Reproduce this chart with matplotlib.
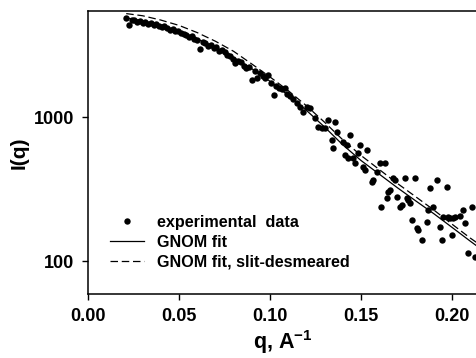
import matplotlib
matplotlib.use("Agg")
import matplotlib.pyplot as plt

plt.rcParams["font.family"] = ["Liberation Sans", "DejaVu Sans"]
plt.rcParams["font.weight"] = "bold"
plt.rcParams["mathtext.fontset"] = "custom"
plt.rcParams["mathtext.rm"] = "Liberation Sans:bold"
plt.rcParams["mathtext.bf"] = "Liberation Sans:bold"

# experimental points (q in 1/A, intensity)
q_exp = [
    0.0210, 0.0225, 0.0240, 0.0255, 0.0270, 0.0285, 0.0300, 0.0315, 0.0330, 0.0345,
    0.0360, 0.0375, 0.0390, 0.0405, 0.0420, 0.0435, 0.0450, 0.0465, 0.0480, 0.0495,
    0.0510, 0.0525, 0.0540, 0.0555, 0.0570, 0.0585, 0.0600, 0.0615, 0.0630, 0.0645,
    0.0660, 0.0675, 0.0690, 0.0705, 0.0720, 0.0735, 0.0750, 0.0765, 0.0780, 0.0795,
    0.0810, 0.0825, 0.0840, 0.0855, 0.0870, 0.0885, 0.0900, 0.0915, 0.0930, 0.0945,
    0.0960, 0.0975, 0.0990, 0.1005, 0.1020, 0.1035, 0.1050, 0.1065, 0.1080, 0.1095,
    0.1110, 0.1125, 0.1147, 0.1165, 0.1183, 0.1201, 0.1220, 0.1247, 0.1265, 0.1284,
    0.1302, 0.1321, 0.1339, 0.1348, 0.1357, 0.1366, 0.1403, 0.1410, 0.1421, 0.1430,
    0.1440, 0.1458, 0.1467, 0.1485, 0.1495, 0.1513, 0.1522, 0.1531, 0.1559, 0.1568,
    0.1586, 0.1604, 0.1610, 0.1632, 0.1641, 0.1650, 0.1659, 0.1678, 0.1687, 0.1696,
    0.1714, 0.1723, 0.1742, 0.1751, 0.1760, 0.1769, 0.1778, 0.1797, 0.1806, 0.1815,
    0.1833, 0.1861, 0.1870, 0.1879, 0.1897, 0.1916, 0.1934, 0.1943, 0.1952, 0.1971,
    0.1980, 0.1989, 0.1998, 0.2007, 0.2016, 0.2044, 0.2062, 0.2071, 0.2089, 0.2108,
    0.2126,
]
I_exp = [
    4900, 4350, 4700, 4750, 4600, 4680, 4550, 4620, 4450, 4500,
    4350, 4450, 4300, 4220, 4300, 4150, 4050, 4120, 3950, 3980,
    3850, 3800, 3750, 3600, 3650, 3500, 3450, 3000, 3350, 3300,
    3150, 3200, 3050, 3100, 2900, 2950, 2850, 2700, 2680, 2550,
    2400, 2470, 2420, 2280, 2190, 2250, 1820, 2100, 1870, 2030,
    1940, 1880, 1970, 1720, 1430, 1650, 1600, 1560, 1590, 1450,
    1400, 1330, 1250, 1186, 1094, 1186, 1155, 984, 861, 839,
    839, 957, 695, 609, 931, 794, 678, 547, 643, 519,
    753, 519, 480, 562, 643, 454, 431, 593, 357, 367,
    419, 480, 239, 485, 274, 304, 313, 377, 367, 281,
    239, 246, 381, 274, 267, 253, 194, 381, 169, 165,
    141, 188, 227, 321, 239, 367, 174, 141, 204, 327,
    204, 199, 152, 199, 204, 207, 227, 184, 114, 239,
    108,
]

# GNOM fits
q_fit = [0.021, 0.03, 0.04, 0.05, 0.06, 0.07, 0.08, 0.09, 0.10, 0.11, 0.12,
         0.13, 0.14, 0.15, 0.16, 0.17, 0.18, 0.19, 0.20, 0.21, 0.215]
I_fit = [4898, 4667, 4325, 3936, 3499, 3055, 2606, 2173, 1778, 1422, 1117,
         855, 643, 501, 403, 324, 263, 214, 172, 138, 124]
I_desm = [5248, 5070, 4732, 4345, 3873, 3373, 2871, 2344, 1905, 1531, 1202,
          923, 697, 543, 434, 347, 281, 227, 181, 145, 131]

W, H = 477, 358
fig = plt.figure(figsize=(W / 100, H / 100), dpi=100)
ax = fig.add_axes([88 / W, (H - 294) / H, (W - 88) / W, (294 - 11) / H])

ax.plot(q_exp, I_exp, "o", color="black", markersize=4.6, markeredgewidth=0,
        label="experimental  data")
ax.plot(q_fit, I_fit, "-", color="black", lw=0.9, label="GNOM fit")
ax.plot(q_fit, I_desm, color="black", lw=0.9, linestyle=(0, (6, 3)),
        label="GNOM fit, slit-desmeared")

ax.set_yscale("log")
ax.set_xlim(0, 0.2137)
ax.set_ylim(59.3, 5470)
ax.set_xticks([0.00, 0.05, 0.10, 0.15, 0.20])
ax.set_xticklabels(["0.00", "0.05", "0.10", "0.15", "0.20"])
ax.set_yticks([100, 1000])
ax.set_yticklabels(["100", "1000"])
ax.minorticks_off()

ax.spines["right"].set_visible(False)
for s in ("left", "bottom", "top"):
    ax.spines[s].set_linewidth(1.1)
ax.tick_params(direction="out", length=4, width=1.0, labelsize=13, pad=6)
for lab in ax.get_xticklabels() + ax.get_yticklabels():
    lab.set_fontweight("bold")

ax.set_xlabel(r"q, A$^{-1}$", fontsize=15.5, fontweight="bold", labelpad=2)
ax.set_ylabel("I(q)", fontsize=15, fontweight="bold", labelpad=4)

leg = ax.legend(loc="lower left", bbox_to_anchor=(0.04, 0.064), frameon=False,
                numpoints=1, fontsize=11.6, handlelength=2.1, handletextpad=0.8,
                labelspacing=0.3, borderaxespad=0)
for t in leg.get_texts():
    t.set_fontweight("bold")

fig.savefig("out.png", dpi=100)
